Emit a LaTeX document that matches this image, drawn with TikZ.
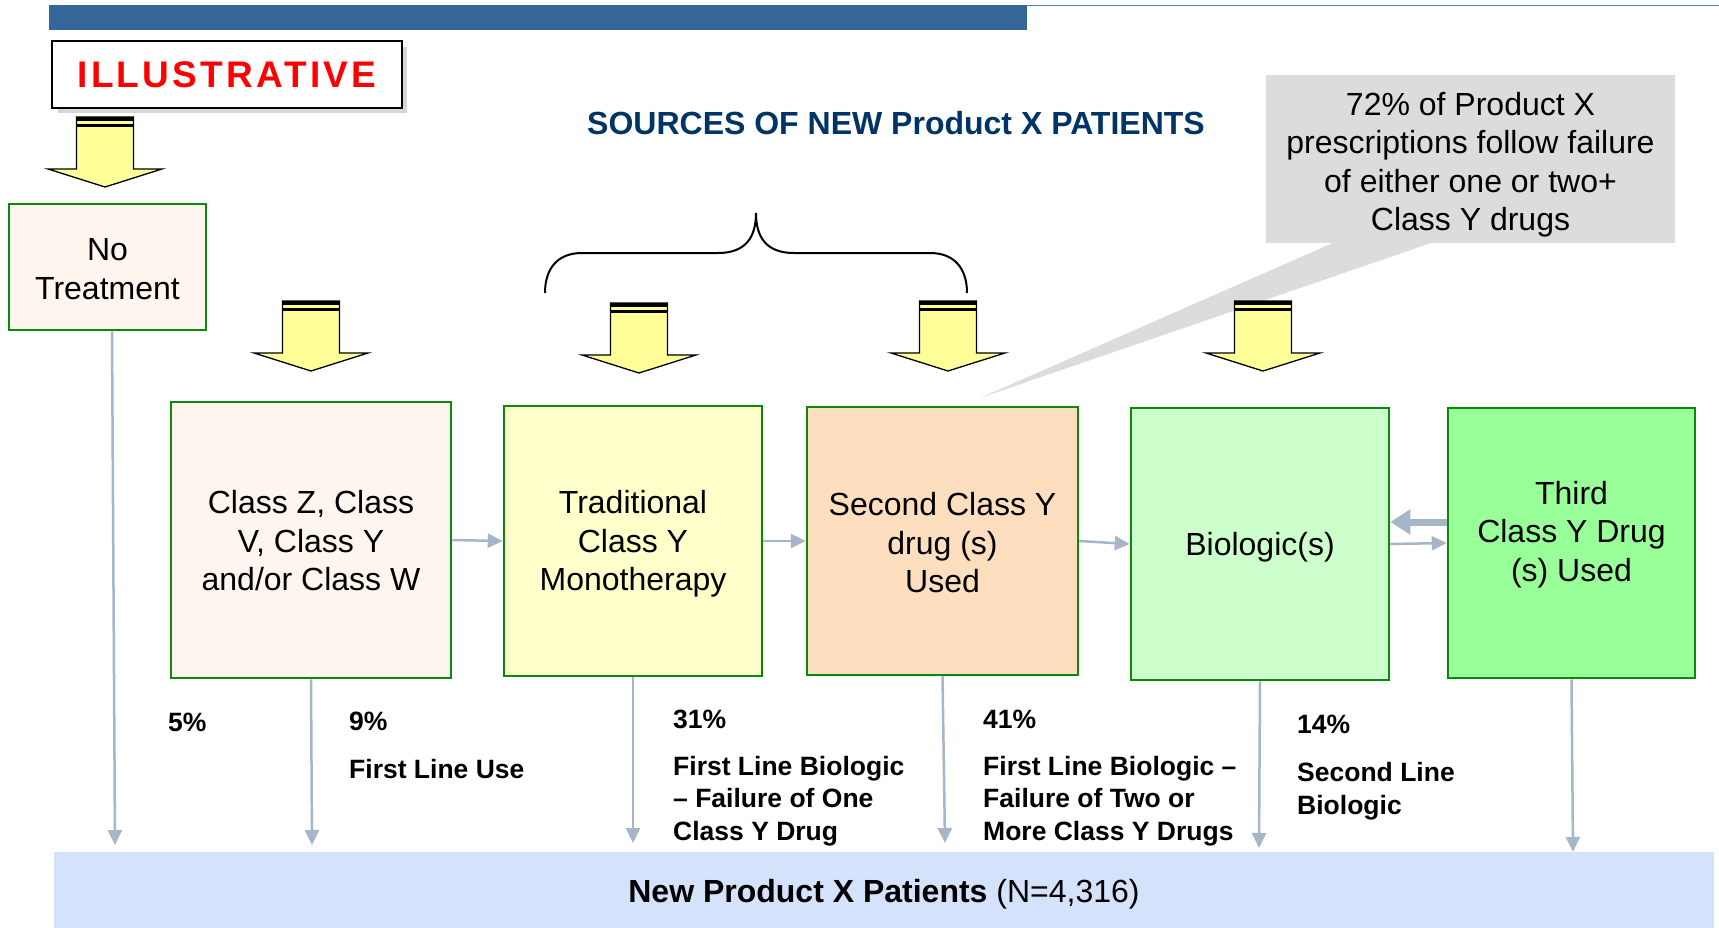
\documentclass[tikz,border=0pt]{standalone}
\usepackage{fontspec}
\setmainfont{Liberation Sans}
\newfontfamily\illfont[LetterSpace=9]{Liberation Sans}
\usetikzlibrary{arrows.meta}
\definecolor{barblue}{HTML}{346699}
\definecolor{linblue}{HTML}{5080BC}
\definecolor{titleblue}{HTML}{003366}
\definecolor{boxgreen}{HTML}{0A8A0A}
\definecolor{fillpink}{HTML}{FEF5EF}
\definecolor{fillyel}{HTML}{FFFFCC}
\definecolor{fillpeach}{HTML}{FDDFBF}
\definecolor{fillltgreen}{HTML}{CCFFCC}
\definecolor{fillgreen}{HTML}{99FF99}
\definecolor{fillblue}{HTML}{D5E2FB}
\definecolor{callgray}{HTML}{DCDCDC}
\definecolor{shadowgray}{HTML}{D6D6D6}
\definecolor{conngray}{HTML}{A6B6C9}
\definecolor{arrowyellow}{HTML}{FFFF99}
\newcommand{\boxfnt}{\fontsize{32}{38.5}\selectfont}
\newcommand{\labfnt}{\fontsize{26.5}{32.5}\selectfont\bfseries}
\newcommand{\blockarrow}[2]{%
  \filldraw[fill=arrowyellow,draw=black,line width=1.3pt]
    ({#1-28.5},#2) -- ({#1+28.5},#2) -- ({#1+28.5},{#2+52}) -- ({#1+57},{#2+52})
    -- (#1,{#2+70}) -- ({#1-57},{#2+52}) -- ({#1-28.5},{#2+52}) -- cycle;
  \fill[black] ({#1-28.5},#2) rectangle ({#1+28.5},{#2+4});
  \fill[black] ({#1-28.5},{#2+7}) rectangle ({#1+28.5},{#2+10});
}
\begin{document}
\begin{tikzpicture}[x=1pt,y=-1pt,
  box/.style={draw=boxgreen,line width=2.5pt,inner sep=0pt},
  boxtext/.style={align=center,font=\boxfnt,inner sep=0pt},
  lab/.style={anchor=west,align=left,font=\labfnt,inner sep=0pt},
  conn/.style={draw=conngray,line width=2.5pt,-{Triangle[length=15pt,width=14pt]}},
  thickconn/.style={draw=conngray,line width=7pt,-{Triangle[length=20pt,width=24pt]}}]
\useasboundingbox (0,0) rectangle (1719,927);
\fill[white] (0,0) rectangle (1719,927);

% top bar
\fill[barblue] (49,5) rectangle (1027,30);
\draw[linblue,line width=1.5pt] (1027,5.5) -- (1719,5.5);

% illustrative
\fill[shadowgray] (58,47) rectangle (407,113);
\node[draw=black,line width=2pt,fill=white,minimum width=350pt,minimum height=67pt,inner sep=0pt,
  text=red,font=\illfont\bfseries\fontsize{37}{40}\selectfont] (illus) at (227,74.5) {ILLUSTRATIVE};

% title
\node[font=\bfseries\fontsize{32}{38}\selectfont,text=titleblue,inner sep=0pt] (title) at (896,123)
  {SOURCES OF NEW Product X PATIENTS};

% callout
\fill[callgray] (1335,242) -- (980,398) -- (1434,242) -- cycle;
\node[fill=callgray,minimum width=409pt,minimum height=168pt,inner sep=0pt] (callout) at (1470.5,159) {};
\node[boxtext] (calltext) at (1470.5,164.5)
  {72\% of Product X\\prescriptions follow failure\\of either one or two+\\Class Y drugs};

% brace
\draw[black,line width=2pt] (545,293) .. controls (545,268) and (558,253) .. (582,253)
  -- (718,253) .. controls (745,253) and (756,238) .. (756,213)
  .. controls (756,238) and (767,253) .. (794,253)
  -- (930,253) .. controls (954,253) and (967,268) .. (967,293);

% yellow block arrows
\blockarrow{105}{117}
\blockarrow{311}{301}
\blockarrow{639}{303}
\blockarrow{948}{301}
\blockarrow{1263}{301}

% boxes
\node[box,fill=fillpink,minimum width=197pt,minimum height=126pt] (nt) at (107.5,267) {};
\node[boxtext,font=\fontsize{32}{39.5}\selectfont] (nttext) at (107.5,269) {No\\Treatment};
\node[box,fill=fillpink,minimum width=280pt,minimum height=276pt] (cz) at (311,540) {};
\node[boxtext] (cztext) at (311,541) {Class Z, Class\\V, Class Y\\and/or Class W};
\node[box,fill=fillyel,minimum width=258pt,minimum height=270pt] (tr) at (633,541) {};
\node[boxtext] (trtext) at (633,544) {Traditional\\Class Y\\Monotherapy};
\node[box,fill=fillpeach,minimum width=271pt,minimum height=268pt] (sc) at (942.5,541) {};
\node[boxtext] (sctext) at (942.5,543) {Second Class Y\\drug (s)\\Used};
\node[box,fill=fillltgreen,minimum width=258pt,minimum height=272pt] (bi) at (1260,544) {};
\node[boxtext] (bitext) at (1260,547) {Biologic(s)};
\node[box,fill=fillgreen,minimum width=247pt,minimum height=270pt] (th) at (1571.5,543) {};
\node[boxtext] (thtext) at (1571.5,534.5) {Third\\Class Y Drug\\(s) Used};

% bottom box
\node[fill=fillblue,minimum width=1660pt,minimum height=84pt,inner sep=0pt,
  font=\fontsize{32}{36}\selectfont] (np) at (884,894)
  {\textbf{New Product X Patients} (N=4,316)};

% end coordinates
\coordinate (e1) at (115,845);
\coordinate (e2) at (312,845);
\coordinate (e3) at (633,843);
\coordinate (e4) at (945,843);
\coordinate (e5) at (1259,848);
\coordinate (e6) at (1573,852);

% connectors
\draw[conn] ([xshift=4.5pt]nt.south) -- (e1);
\draw[conn] (cz.south) -- (e2);
\draw[conn] (tr.south) -- (e3);
\draw[conn] (sc.south) -- (e4);
\draw[conn] (bi.south) -- (e5);
\draw[conn] (th.south) -- (e6);
\draw[conn] (cz.east) -- (tr.west);
\draw[conn] (tr.east) -- (sc.west);
\draw[conn] (sc.east) -- (bi.west);
\draw[conn] (bi.east) -- (th.west);
\draw[thickconn] ([yshift=21pt]th.west) -- ([yshift=22pt]bi.east);

% labels
\node[lab] (l5) at (168,722) {5\%};
\node[lab] (l9) at (349,721) {9\%};
\node[lab] (l9t) at (349,769) {First Line Use};
\node[lab] (l31) at (673,719) {31\%};
\node[lab] (l31t) at (673,801) {First Line Biologic\\– Failure of One\\Class Y Drug};
\node[lab] (l41) at (983,719) {41\%};
\node[lab] (l41t) at (983,801) {First Line Biologic –\\Failure of Two or\\More Class Y Drugs};
\node[lab] (l14) at (1297,724) {14\%};
\node[lab] (l14t) at (1297,791) {Second Line\\Biologic};
\end{tikzpicture}
\end{document}
